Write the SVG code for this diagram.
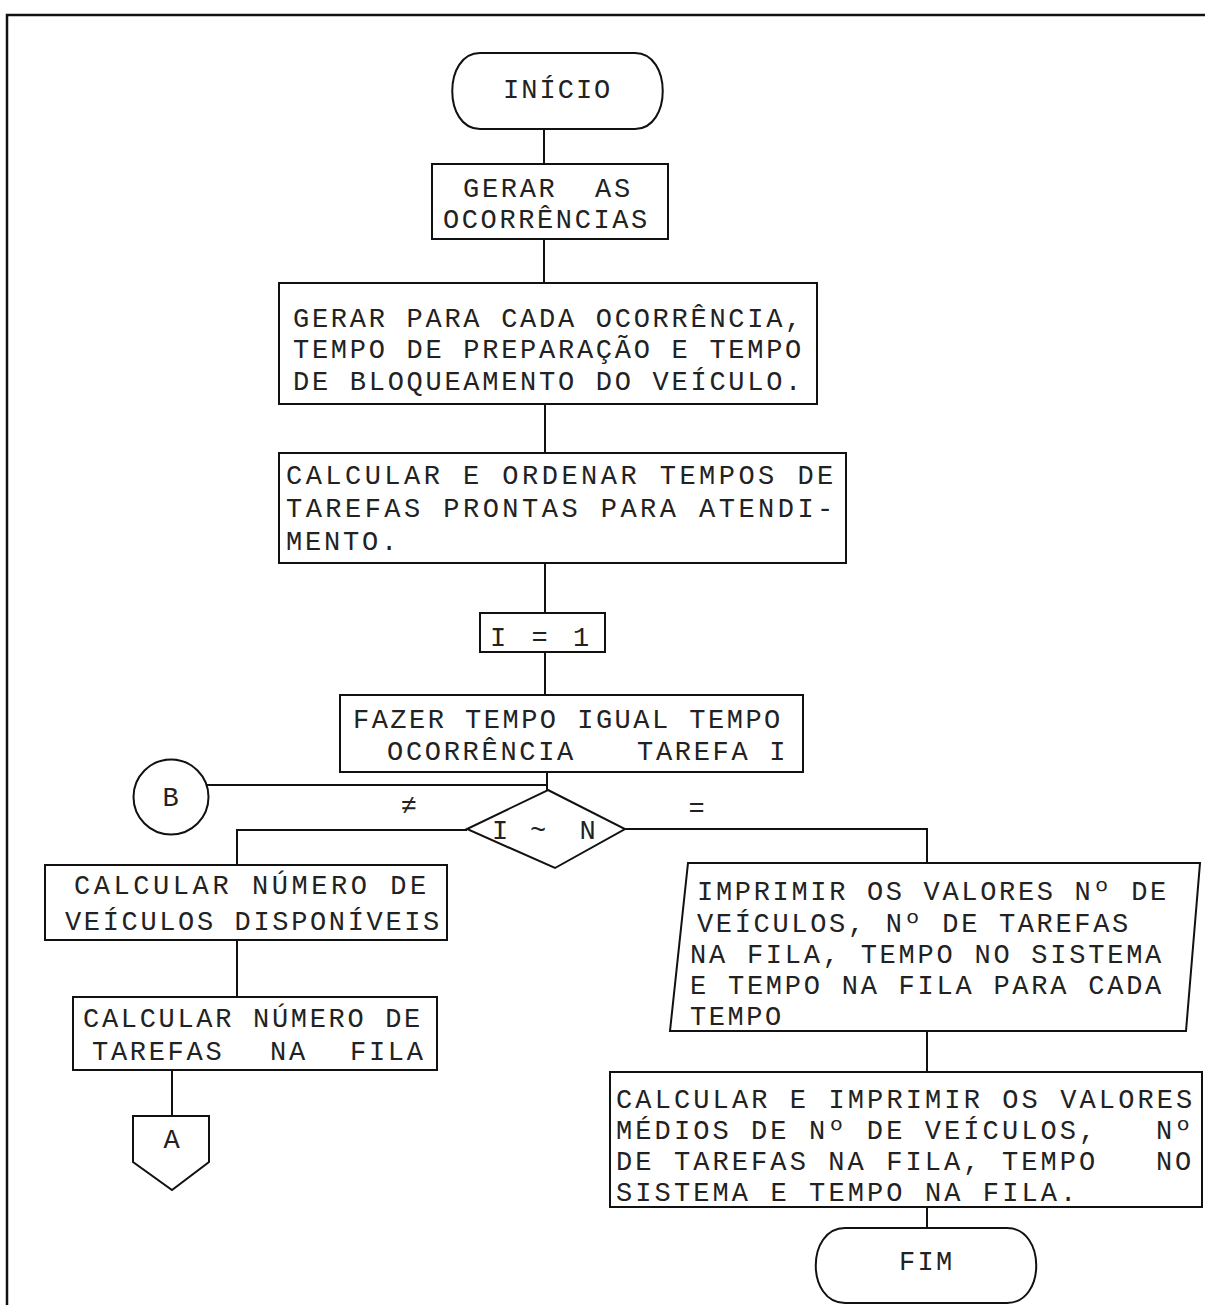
<svg xmlns="http://www.w3.org/2000/svg" width="1205" height="1305" viewBox="0 0 1205 1305">
<style>
  .bg { fill: #ffffff; }
  .shape { fill: none; stroke: #111; stroke-width: 2; }
  .conn { fill: none; stroke: #111; stroke-width: 2; }
  .frame { fill: none; stroke: #111; stroke-width: 2.5; }
  text { font-family: "Liberation Mono", "DejaVu Sans Mono", monospace; font-size: 27px; letter-spacing: 2.7px; fill: #222; }
  .mid { text-anchor: middle; }
</style>
<rect class="bg" x="0" y="0" width="1205" height="1305"/>
<g id="page-frame">
  <path class="frame" d="M7,1305 V15 H1205"/>
</g>
<g id="connectors">
  <path class="conn" d="M544,129 V164"/>
  <path class="conn" d="M544,239 V283"/>
  <path class="conn" d="M545,404 V453"/>
  <path class="conn" d="M545,563 V613"/>
  <path class="conn" d="M545,652 V695"/>
  <path class="conn" d="M547,772 V790"/>
  <path class="conn" d="M206,785 H547"/>
  <path class="conn" d="M467,830 H237 V865"/>
  <path class="conn" d="M237,940 V997"/>
  <path class="conn" d="M172,1070 V1116"/>
  <path class="conn" d="M625,829 H927 V863"/>
  <path class="conn" d="M927,1031 V1072"/>
  <path class="conn" d="M927,1207 V1228"/>
  <text x="410" y="814" class="mid">≠</text>
  <text x="698" y="817" class="mid">=</text>
</g>
<g id="inicio">
  <path class="shape" d="M480,53 H635 C672,53 672,129 635,129 H480 C443,129 443,53 480,53 Z"/>
  <text x="558" y="98" class="mid" textLength="110">INÍCIO</text>
</g>
<g id="gerar-ocorrencias">
  <rect class="shape" x="432" y="164" width="236" height="75"/>
  <text y="197"><tspan x="463">GERAR</tspan> <tspan x="595">AS</tspan></text>
  <text x="443" y="228" textLength="207">OCORRÊNCIAS</text>
</g>
<g id="gerar-tempos">
  <rect class="shape" x="279" y="283" width="538" height="121"/>
  <text x="293" y="327" textLength="511">GERAR PARA CADA OCORRÊNCIA,</text>
  <text x="293" y="358" textLength="511">TEMPO DE PREPARAÇÃO E TEMPO</text>
  <text x="293" y="390" textLength="511">DE BLOQUEAMENTO DO VEÍCULO.</text>
</g>
<g id="calcular-ordenar">
  <rect class="shape" x="279" y="453" width="567" height="110"/>
  <text x="286" y="484" textLength="550">CALCULAR E ORDENAR TEMPOS DE</text>
  <text x="286" y="517" textLength="550">TAREFAS PRONTAS PARA ATENDI-</text>
  <text x="286" y="550" textLength="114">MENTO.</text>
</g>
<g id="i-igual-1">
  <rect class="shape" x="480" y="613" width="125" height="39"/>
  <text x="541" y="646" class="mid" textLength="102">I = 1</text>
</g>
<g id="fazer-tempo">
  <rect class="shape" x="340" y="695" width="463" height="77"/>
  <text x="353" y="728" textLength="430">FAZER TEMPO IGUAL TEMPO</text>
  <text y="760"><tspan x="387">OCORRÊNCIA</tspan> <tspan x="637">TAREFA I</tspan></text>
</g>
<g id="conector-b">
  <circle class="shape" cx="171" cy="797" r="37.5"/>
  <text x="172" y="806" class="mid">B</text>
</g>
<g id="decisao">
  <path class="shape" d="M548,790 L625,829 L555,868 L467,829 Z"/>
  <text y="839"><tspan x="511" class="mid">I</tspan> <tspan x="549" class="mid">~</tspan> <tspan x="589" class="mid">N</tspan></text>
</g>
<g id="calcular-veiculos">
  <rect class="shape" x="45" y="865" width="402" height="75"/>
  <text x="74" y="894" textLength="355">CALCULAR NÚMERO DE</text>
  <text x="65" y="930" textLength="377">VEÍCULOS DISPONÍVEIS</text>
</g>
<g id="calcular-tarefas">
  <rect class="shape" x="73" y="997" width="364" height="73"/>
  <text x="83" y="1027" textLength="340">CALCULAR NÚMERO DE</text>
  <text y="1060"><tspan x="92">TAREFAS</tspan> <tspan x="270">NA</tspan> <tspan x="350">FILA</tspan></text>
</g>
<g id="conector-a">
  <path class="shape" d="M133,1116 H209 V1162 L172,1190 L133,1162 Z"/>
  <text x="173" y="1148" class="mid">A</text>
</g>
<g id="imprimir-valores">
  <path class="shape" d="M688,863 H1200 L1186,1031 H670 Z"/>
  <text x="697" y="900" textLength="472">IMPRIMIR OS VALORES Nº DE</text>
  <text x="697" y="932" textLength="434">VEÍCULOS, Nº DE TAREFAS</text>
  <text x="690" y="963" textLength="474">NA FILA, TEMPO NO SISTEMA</text>
  <text x="690" y="994" textLength="474">E TEMPO NA FILA PARA CADA</text>
  <text x="690" y="1025" textLength="94">TEMPO</text>
</g>
<g id="calcular-medios">
  <rect class="shape" x="610" y="1072" width="592" height="135"/>
  <text x="616" y="1108" textLength="579">CALCULAR E IMPRIMIR OS VALORES</text>
  <text y="1139"><tspan x="616" textLength="482">MÉDIOS DE Nº DE VEÍCULOS,</tspan> <tspan x="1156">Nº</tspan></text>
  <text y="1170"><tspan x="616" textLength="482">DE TAREFAS NA FILA, TEMPO</tspan> <tspan x="1156">NO</tspan></text>
  <text x="616" y="1201" textLength="463">SISTEMA E TEMPO NA FILA.</text>
</g>
<g id="fim">
  <path class="shape" d="M845,1228 H1007 C1046,1228 1046,1303 1007,1303 H845 C806,1303 806,1228 845,1228 Z"/>
  <text x="927" y="1270" class="mid" textLength="56">FIM</text>
</g>
</svg>
